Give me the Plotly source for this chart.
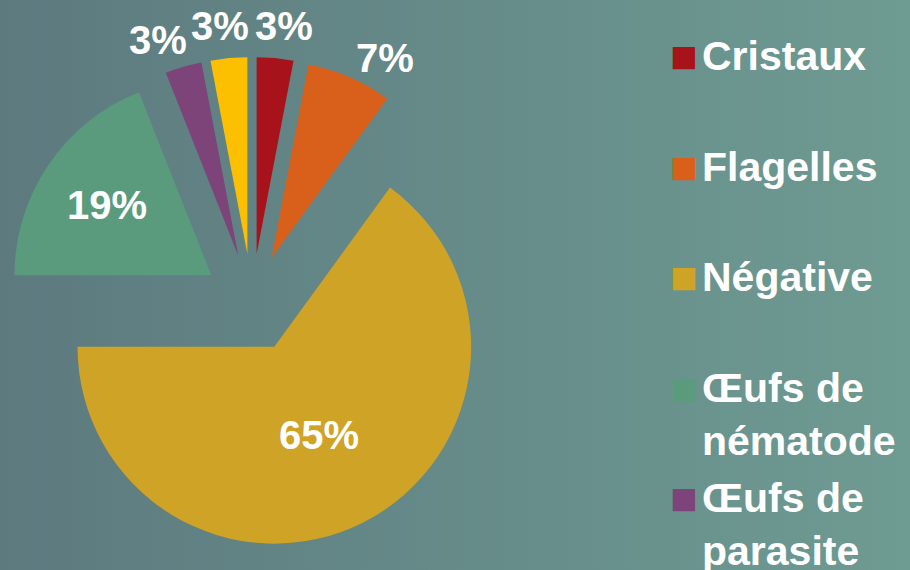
import base64
import math

import plotly.graph_objects as go

# slices, clockwise from 12 o'clock
labels = ["Cristaux", "Flagelles", "Négative", "Œufs de nématode", "Œufs de parasite", "Autres"]
values = [3, 7, 65, 19, 3, 3]

colors = ["#a8121a", "#d9601a", "#cfa326", "#5b9b7d", "#7d4479", "#fcc000"]
label_pos = ["outside", "outside", "inside", "inside", "outside", "outside"]

W, H = 910, 570
FONT = "Liberation Sans, Arial, sans-serif"
PULL = 0.25
DOM_X = [6 / W, 498 / W]
DOM_Y = [21 / H, 513 / H]


def gradient_background() -> str:
    svg = (
        f'<svg xmlns="http://www.w3.org/2000/svg" width="{W}" height="{H}">'
        '<defs><linearGradient id="g" x1="0" y1="0" x2="1" y2="0">'
        '<stop offset="0" stop-color="#5d7a7f"/>'
        '<stop offset="1" stop-color="#6e9b92"/>'
        "</linearGradient></defs>"
        f'<rect width="{W}" height="{H}" fill="url(#g)"/></svg>'
    )
    return "data:image/svg+xml;base64," + base64.b64encode(svg.encode()).decode()


fig = go.Figure(
    go.Pie(
        labels=labels,
        values=values,
        sort=False,
        direction="clockwise",
        rotation=0,
        pull=PULL,
        marker=dict(colors=colors, line=dict(width=0)),
        texttemplate="%{percent}",
        # small slices get their labels below, without leader lines
        textposition=[p if p == "inside" else "none" for p in label_pos],
        insidetextorientation="horizontal",
        insidetextfont=dict(family=FONT, size=40, color="white", weight="bold"),
        domain=dict(x=DOM_X, y=DOM_Y),
        hoverinfo="label+percent",
        showlegend=False,
    )
)

# outside labels for the thin slices, just past the tip of each slice
total = sum(values)
cx = (DOM_X[0] + DOM_X[1]) / 2 * W
cy = H - (DOM_Y[0] + DOM_Y[1]) / 2 * H
r = min((DOM_X[1] - DOM_X[0]) * W, (DOM_Y[1] - DOM_Y[0]) * H) / (2 + 2 * PULL)
cum = 0
for v, pos in zip(values, label_pos):
    mid = (cum + v / 2) / total * 360
    cum += v
    if pos != "outside":
        continue
    ang = math.radians(mid if mid < 180 else mid - 360) * 1.22
    d = r * (1 + PULL) + 33
    fig.add_annotation(
        x=(cx + d * math.sin(ang)) / W, y=1 - (cy - d * math.cos(ang)) / H,
        xref="paper", yref="paper", xanchor="center", yanchor="middle",
        showarrow=False,
        text=f"{round(100 * v / total)}%",
        font=dict(family=FONT, size=40, color="white", weight="bold"),
    )

# legend drawn by hand: big squares, even spacing, long names wrapped
for i, (name, col) in enumerate(zip(labels, colors)):
    top = 1 - (31 + i * 110.5) / H
    fig.add_annotation(
        x=668 / W, y=top + 3 / H, xref="paper", yref="paper",
        xanchor="left", yanchor="top", showarrow=False,
        text="■", font=dict(family=FONT, size=46, color=col),
    )
    fig.add_annotation(
        x=700 / W, y=top, xref="paper", yref="paper",
        xanchor="left", yanchor="top", align="left", showarrow=False,
        text=name.replace(" de ", " de<br>"),
        font=dict(family=FONT, size=41, color="white", weight="bold"),
    )

fig.update_layout(
    width=W,
    height=H,
    margin=dict(l=0, r=0, t=0, b=0, autoexpand=False),
    paper_bgcolor="#66898a",
    plot_bgcolor="rgba(0,0,0,0)",
    font=dict(family=FONT, color="white"),
    images=[
        dict(
            source=gradient_background(),
            xref="paper", yref="paper", x=0, y=1,
            sizex=1, sizey=1, sizing="stretch", layer="below",
        )
    ],
)

fig.write_html(
    "out.html",
    config={"displayModeBar": False},
    post_script="document.body.style.margin = '0';",
)
